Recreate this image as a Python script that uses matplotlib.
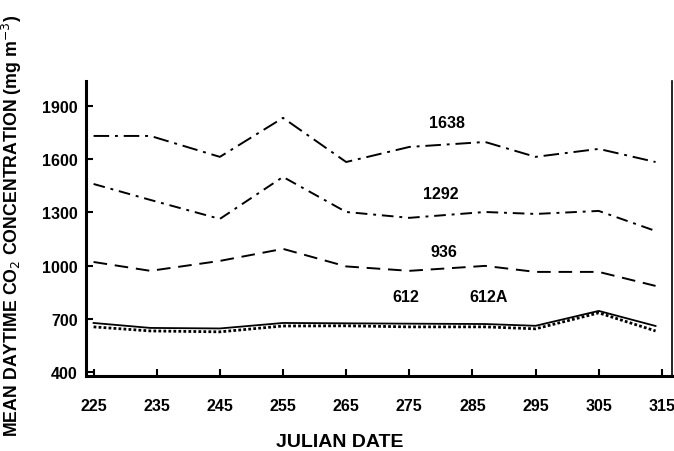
import matplotlib
matplotlib.use("Agg")
import matplotlib.pyplot as plt

plt.rcParams["font.family"] = ["Liberation Sans", "DejaVu Sans"]

# sampling dates (julian day) and mean daytime CO2 per site
dates = [225, 234, 245, 255, 265, 275, 287, 295, 305, 314]
s1638 = [1731, 1731, 1613, 1833, 1584, 1669, 1697, 1613, 1658, 1584]
s1292 = [1460, 1370, 1263, 1500, 1302, 1269, 1302, 1291, 1308, 1195]
s936 = [1020, 970, 1026, 1094, 995, 970, 998, 964, 964, 885]
s612 = [676, 648, 645, 676, 674, 672, 670, 660, 744, 659]
s612a = [654, 631, 626, 659, 660, 654, 654, 643, 733, 631]

xticks = [225, 235, 245, 255, 265, 275, 285, 295, 305, 315]
yticks = [400, 700, 1000, 1300, 1600, 1900]

# label anchor points (date, value)
labels = ["1638", "1292", "936", "612", "612A"]
label_x = [281, 280, 280.5, 274.5, 287.5]
label_y = [1805, 1405, 1078, 823, 823]

fig = plt.figure(figsize=(6.74, 4.52), dpi=100)
ax = fig.add_axes([0.1276, 0.166, 0.8694, 0.6526])

ax.plot(dates, s1638, color="black", lw=1.4, linestyle=(0, (8, 3, 1.5, 3)))
ax.plot(dates, s1292, color="black", lw=1.4, linestyle=(0, (6, 3, 1.5, 3)))
ax.plot(dates, s936, color="black", lw=1.4, linestyle=(0, (7, 4)))
ax.plot(dates, s612, color="black", lw=1.3)
ax.plot(dates, s612a, color="black", lw=2.0, linestyle=(0, (1, 0.8)))

for t, x, y in zip(labels, label_x, label_y):
    ax.text(x, y, t, ha="center", va="center", fontsize=11.5, fontweight="bold")

ax.set_xlim(223.8, 316.6)
ax.set_ylim(377, 2041)
ax.set_xticks(xticks)
ax.set_yticks(yticks)
ax.tick_params(direction="in", length=5, width=1.5, labelsize=11.5)
ax.tick_params(axis="x", pad=16)
ax.tick_params(axis="y", pad=6)
for lab in ax.get_xticklabels() + ax.get_yticklabels():
    lab.set_fontweight("bold")

ax.spines["top"].set_visible(False)
ax.spines["left"].set_linewidth(2.2)
ax.spines["bottom"].set_linewidth(2.2)
ax.spines["right"].set_linewidth(1.2)

fig.text(0.504, 0.022, "JULIAN DATE", ha="center", va="center",
         fontsize=14, fontweight="bold")
fig.text(0.018, 0.5, "MEAN DAYTIME CO$_2$ CONCENTRATION (mg m$^{-3}$)",
         rotation=90, ha="center", va="center", fontsize=12.8, fontweight="bold")

fig.savefig("out.png", dpi=100)
